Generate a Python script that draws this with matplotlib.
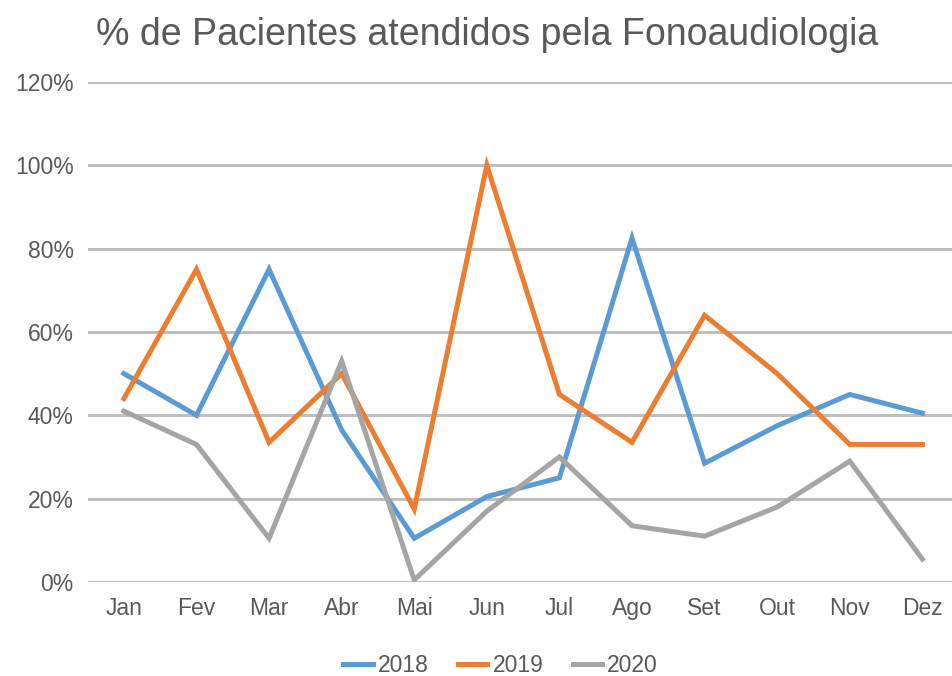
import matplotlib
matplotlib.use("Agg")
import matplotlib.pyplot as plt
from matplotlib.ticker import PercentFormatter

months = ["Jan", "Fev", "Mar", "Abr", "Mai", "Jun", "Jul", "Ago", "Set", "Out", "Nov", "Dez"]
pct_2018 = [50, 40, 75, 36.5, 10.5, 20.5, 25, 82.5, 28.5, 37.5, 45, 40.5]
pct_2019 = [44, 75, 33.5, 50, 17.5, 100, 45, 33.5, 64, 50, 33, 33]
pct_2020 = [41, 33, 10.5, 53, 0.5, 17, 30, 13.5, 11, 18, 29, 5.5]

series = [("2018", pct_2018, "#5B9BD5"), ("2019", pct_2019, "#ED7D31"), ("2020", pct_2020, "#A5A5A5")]
text_color = "#595959"

plt.rcParams["font.family"] = ["Liberation Sans", "DejaVu Sans"]

fig = plt.figure(figsize=(9.52, 6.76), dpi=100)
ax = fig.add_axes([0.092, 0.139, 0.915, 0.740])

x = list(range(len(months)))
for name, values, color in series:
    ax.plot(x, values, color=color, linewidth=3.6, label=name, solid_joinstyle="miter", zorder=3)

ax.set_xlim(-0.5, len(months) - 0.5)
ax.set_ylim(0, 120)
ax.set_yticks(range(0, 121, 20))
ax.yaxis.set_major_formatter(PercentFormatter(decimals=0))
ax.set_xticks(x)
ax.set_xticklabels(months)
ax.grid(axis="y", color="#BFBFBF", linewidth=2.2, zorder=0)
ax.tick_params(length=0, labelsize=16.5, colors=text_color)
ax.tick_params(axis="x", pad=11)
ax.tick_params(axis="y", pad=10)
for spine in ax.spines.values():
    spine.set_visible(False)

fig.text(0.512, 0.948, "% de Pacientes atendidos pela Fonoaudiologia", ha="center", va="center",
         fontsize=27, color=text_color)

fig.legend(loc="center", bbox_to_anchor=(0.526, 0.016), ncol=3, frameon=False, fontsize=16.5,
           handlelength=1.27, handletextpad=0.22, columnspacing=1.3, labelcolor=text_color)

fig.savefig("out.png", dpi=100)
